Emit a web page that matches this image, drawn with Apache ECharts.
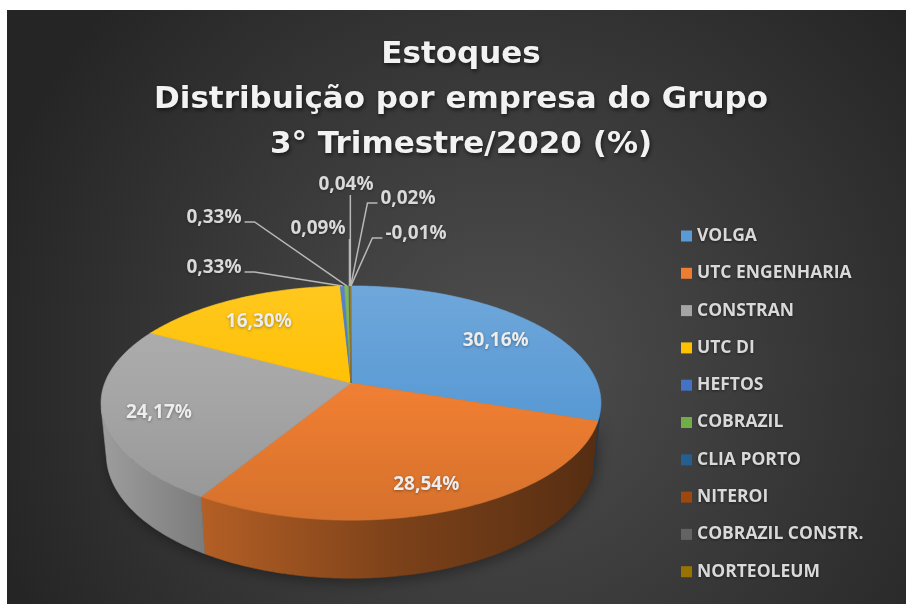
<!DOCTYPE html>
<html><head><meta charset="utf-8">
<script src="https://cdn.jsdelivr.net/npm/echarts@6/dist/echarts.min.js"></script>
<style>html,body{margin:0;padding:0;background:#fff}#c{width:906px;height:604px}</style>
</head><body><div id="c"></div>
<script>
// ---- data ----
const titleLines = ['Estoques', 'Distribuição por empresa do Grupo', '3° Trimestre/2020 (%)'];
const companies = ['VOLGA','UTC ENGENHARIA','CONSTRAN','UTC DI','HEFTOS','COBRAZIL','CLIA PORTO','NITEROI','COBRAZIL CONSTR.','NORTEOLEUM'];
const shares = [30.16, 28.54, 24.17, 16.30, 0.33, 0.33, 0.09, 0.04, 0.02, -0.01];
const colors = ['#5B9BD5','#ED7D31','#A5A5A5','#FFC000','#4472C4','#70AD47','#255E91','#9E480E','#636363','#997300'];
// ---- layout (not data): centres of the outside labels of the small slices ----
const outsideLabelPos = {4:[214,268],5:[214,218],6:[318,229],7:[346,185],8:[408,199],9:[416,234]};

const FONT = '"Open Sans", "DejaVu Sans", sans-serif';
const TITLE_FONT = '"DejaVu Sans", sans-serif';
const D2R = Math.PI/180;
const P = {cx:351, cy:383, F:1276, r:0.193, e:27.5*D2R, t:0.0462};
const se = Math.sin(P.e), ce = Math.cos(P.e);
function proj(a, h, k){
  const u = P.r*k*Math.cos(a), v = P.r*k*Math.sin(a);
  const Y = v*se + h*ce, Z = 1 + v*ce - h*se;
  return [P.cx + P.F*u/Z, P.cy - P.F*Y/Z];
}
const absTotal = shares.reduce((s,v)=>s+Math.abs(v),0);
const startFrac = []; let acc = 0;
shares.forEach(v=>{ startFrac.push(acc/absTotal); acc += Math.abs(v); });
function angles(i){
  const a0 = Math.PI/2 - startFrac[i]*2*Math.PI;
  const a1 = a0 - Math.abs(shares[i])/absTotal*2*Math.PI;
  return [a0, a1];
}
function arcPts(aFrom, aTo, h){
  const n = Math.max(2, Math.ceil(Math.abs(aTo-aFrom)/D2R)+1);
  const pts = [];
  for (let j=0;j<n;j++){ pts.push(proj(aFrom + (aTo-aFrom)*j/(n-1), h, 1)); }
  return pts;
}
const visLim = Math.asin(P.r/ce);
const visMin = -Math.PI + visLim, visMax = -visLim;
// bounds of top ellipse
let bx0=1e9,bx1=-1e9,by0=1e9,by1=-1e9;
for (let d=0; d<360; d+=0.5){ const p=proj(d*D2R,0,1); bx0=Math.min(bx0,p[0]);bx1=Math.max(bx1,p[0]);by0=Math.min(by0,p[1]);by1=Math.max(by1,p[1]); }

function rgb(h){ h=h.replace('#',''); return [parseInt(h.substr(0,2),16),parseInt(h.substr(2,2),16),parseInt(h.substr(4,2),16)]; }
function toHex(c){ return '#'+c.map(v=>Math.max(0,Math.min(255,Math.round(v))).toString(16).padStart(2,'0')).join(''); }
function shade(h,f){ return toHex(rgb(h).map(v=>v*f)); }
function tint(h,w){ return toHex(rgb(h).map(v=>v+(255-v)*w)); }

const mctx = document.createElement('canvas').getContext('2d');
const LABEL_SIZE = 19;
function textW(t){ mctx.font = 'bold '+LABEL_SIZE+'px '+FONT; return mctx.measureText(t).width; }
function fmt(v){ return v.toFixed(2).replace('.', ',') + '%'; }

function renderSlice(i){
  const [a0, a1] = angles(i);
  const c = colors[i];
  const children = [];
  if (i === 0){
    // soft shadow under the whole cake
    const s = arcPts(visMax, visMin, 0).concat(arcPts(visMin, visMax, -P.t));
    children.push({type:'polygon', z2:0, shape:{points:s}, style:{fill:'rgba(0,0,0,0.5)', shadowBlur:14, shadowColor:'rgba(0,0,0,0.75)', shadowOffsetY:4, shadowOffsetX:2}});
  }
  // outer wall
  const lo = Math.max(a1, visMin), hi = Math.min(a0, visMax);
  if (lo < hi){
    const pts = arcPts(hi, lo, 0).concat(arcPts(lo, hi, -P.t));
    const wallGrad = new echarts.graphic.LinearGradient(bx0, 0, bx1, 0, [
      {offset:0, color:shade(c,0.95)}, {offset:0.2, color:shade(c,0.76)},
      {offset:0.6, color:shade(c,0.52)}, {offset:1, color:shade(c,0.36)}], true);
    children.push({type:'polygon', z2:2, shape:{points:pts}, style:{fill:wallGrad, stroke:wallGrad, lineWidth:0.6}});
  }
  // top face
  const topPts = [proj(0,0,0)].concat(arcPts(a0, a1, 0));
  const topGrad = new echarts.graphic.LinearGradient(0, by0, 0, by1, [
    {offset:0, color:tint(c,0.12)}, {offset:0.5, color:c}, {offset:1, color:shade(c,0.9)}], true);
  children.push({type:'polygon', z2:10, shape:{points:topPts}, style:{fill:topGrad, stroke:topGrad, lineWidth:0.6}});
  // label
  const am = (a0+a1)/2;
  const txt = fmt(shares[i]);
  if (outsideLabelPos[i] === undefined){
    const p = proj(am, 0, 0.78);
    children.push({type:'text', z2:30, x:p[0], y:p[1]+6, style:{text:txt, align:'center', verticalAlign:'middle',
      fill:'#ededed', font:'bold '+LABEL_SIZE+'px '+FONT, textShadowColor:'rgba(0,0,0,0.35)', textShadowBlur:3, textShadowOffsetY:1}});
  } else {
    const [lx, ly] = outsideLabelPos[i];
    const w = textW(txt), left = lx - w/2, right = lx + w/2, bottom = ly + 9;
    const [ex, ey] = proj(am, 0, 1);
    let pts;
    if (ex >= left-2 && ex <= right+6){
      const x = Math.min(Math.max(ex, left), right+4);
      pts = [[x, bottom+1],[ex, ey]];
    } else if (ex > right){
      pts = [[right+3, ly+4],[right+13, ly+4],[ex, ey]];
    } else {
      pts = [[left-3, ly+4],[left-13, ly+4],[ex, ey]];
    }
    children.push({type:'polyline', z2:20, shape:{points:pts}, style:{stroke:'#b8b8b8', lineWidth:1.5, fill:null}});
    children.push({type:'text', z2:30, x:lx, y:ly, style:{text:txt, align:'center', verticalAlign:'middle',
      fill:'#d9d9d9', font:'bold '+LABEL_SIZE+'px '+FONT, textShadowColor:'rgba(0,0,0,0.35)', textShadowBlur:3, textShadowOffsetY:1}});
  }
  return {type:'group', children};
}

const chart = echarts.init(document.getElementById('c'), null, {renderer:'canvas'});
const series = companies.map((name, i) => ({
  type:'custom', name, coordinateSystem:'none', animation:false, silent:true,
  itemStyle:{color:colors[i]},
  data:[{value:shares[i], name}],
  renderItem: () => renderSlice(i)
}));

chart.setOption({
  animation:false,
  graphic:[
    {type:'rect', z:-10, silent:true, shape:{x:7, y:10, width:899, height:594},
     style:{fill:new echarts.graphic.RadialGradient(0.55, 0.6, 0.9, [{offset:0,color:'#4f4f4f'},{offset:1,color:'#252525'}])}},
    {type:'text', z:5, x:461, y:32, style:{text:titleLines.join('\n'), align:'center', verticalAlign:'top', lineHeight:45,
      fill:'#f2f2f2', font:'bold 31px '+TITLE_FONT, textShadowColor:'rgba(0,0,0,0.6)', textShadowBlur:4, textShadowOffsetX:1, textShadowOffsetY:2}}
  ],
  legend:{orient:'vertical', left:676, top:221, itemWidth:11, itemHeight:11, itemGap:17.3, icon:'rect',
    data:companies, selectedMode:false,
    textStyle:{color:'#d9d9d9', fontSize:17.5, fontWeight:'bold', fontFamily:FONT, lineHeight:20,
      textShadowColor:'rgba(0,0,0,0.5)', textShadowBlur:3, textShadowOffsetY:1}},
  series
});
</script></body></html>
